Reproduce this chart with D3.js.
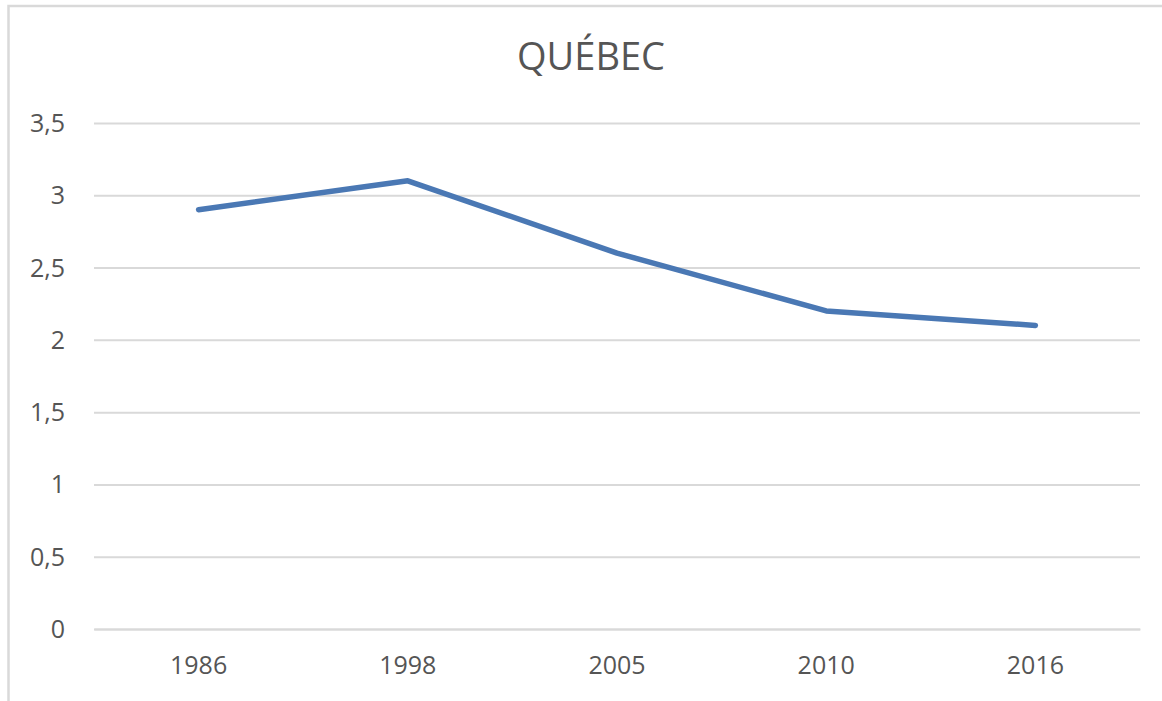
<!DOCTYPE html>
<html>
<head>
<meta charset="utf-8">
<script src="https://cdn.jsdelivr.net/npm/d3@7/dist/d3.min.js"></script>
<style>
  html, body { margin: 0; padding: 0; background: #fff; }
  svg { display: block; font-family: "Open Sans", "Noto Sans", sans-serif; }
</style>
</head>
<body>
<svg id="chart" width="1162" height="701"></svg>
<script>
const title = "QUÉBEC";
const categories = ["1986", "1998", "2005", "2010", "2016"];
const values = [2.9, 3.1, 2.6, 2.2, 2.1];
const yTicks = [0, 0.5, 1, 1.5, 2, 2.5, 3, 3.5];
const yTickLabels = ["0", "0,5", "1", "1,5", "2", "2,5", "3", "3,5"];

const svg = d3.select("#chart");
const W = 1162, H = 701;
const plot = { left: 94, right: 1140, top: 123, bottom: 629 };

// Frame (cropped on right and bottom)
svg.append("path")
  .attr("d", `M8.5,${H + 2} V6 H${W + 2}`)
  .attr("fill", "none").attr("stroke", "#d9d9d9").attr("stroke-width", 2.5);

const x = d3.scaleBand().domain(categories).range([plot.left, plot.right]).padding(0);
const y = d3.scaleLinear().domain([0, 3.5]).range([plot.bottom, plot.top]);

// Gridlines + y labels
const yAxis = d3.axisLeft(y)
  .tickValues(yTicks)
  .tickFormat((d, i) => yTickLabels[i])
  .tickSize(-(plot.right - plot.left))
  .tickPadding(29);
const gy = svg.append("g").attr("transform", `translate(${plot.left},0)`).call(yAxis);
gy.select(".domain").remove();
gy.selectAll(".tick line").attr("stroke", "#d9d9d9").attr("stroke-width", 2);
gy.selectAll(".tick text")
  .attr("fill", "#555555").attr("font-size", 25).attr("font-family", "'Open Sans', sans-serif")
  .attr("dy", "0.34em");

// X axis labels
const xAxis = d3.axisBottom(x).tickSize(0).tickPadding(27);
const gx = svg.append("g").attr("transform", `translate(0,${plot.bottom})`).call(xAxis);
gx.select(".domain").attr("stroke", "#d9d9d9").attr("stroke-width", 2);
gx.selectAll(".tick text")
  .attr("fill", "#555555").attr("font-size", 25).attr("font-family", "'Open Sans', sans-serif");

// Line
const line = d3.line()
  .x((d, i) => x(categories[i]) + x.bandwidth() / 2)
  .y(d => y(d));
svg.append("path")
  .datum(values)
  .attr("d", line)
  .attr("fill", "none")
  .attr("stroke", "#4a78b4")
  .attr("stroke-width", 5.5)
  .attr("stroke-linejoin", "round")
  .attr("stroke-linecap", "round");

// Title
svg.append("text")
  .attr("x", 591).attr("y", 70)
  .attr("text-anchor", "middle")
  .attr("fill", "#555555")
  .attr("font-size", 38)
  .text(title);
</script>
</body>
</html>
